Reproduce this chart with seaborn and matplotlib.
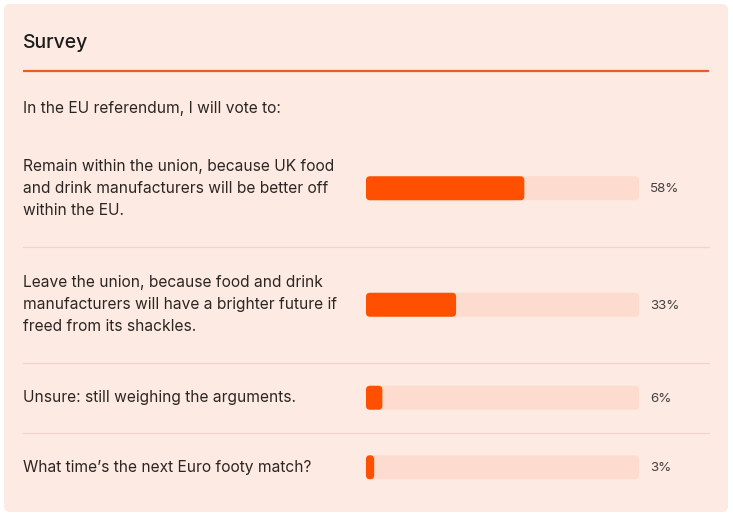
import matplotlib
matplotlib.use("Agg")
import matplotlib.pyplot as plt
from matplotlib.patches import FancyBboxPatch
import seaborn as sns
import pandas as pd

title = "Survey"
question = "In the EU referendum, I will vote to:"
answers = [
    "Remain within the union, because UK food\nand drink manufacturers will be better off\nwithin the EU.",
    "Leave the union, because food and drink\nmanufacturers will have a brighter future if\nfreed from its shackles.",
    "Unsure: still weighing the arguments.",
    "What time\u2019s the next Euro footy match?",
]
percents = [58, 33, 6, 3]

sns.set_theme(style="white")
plt.rcParams["font.family"] = ["Inter", "DejaVu Sans"]

W, H = 733, 518
CARD = "#FDEBE3"
TRACK = "#FDDCCF"
FILL = "#FE5000"
TEXT = "#2B2523"

fig = plt.figure(figsize=(W / 100, H / 100), dpi=100)
fig.patch.set_facecolor("white")

# Background axes in pixel coordinates
bg = fig.add_axes([0, 0, 1, 1])
bg.set_xlim(0, W)
bg.set_ylim(H, 0)
bg.axis("off")
bg.add_patch(FancyBboxPatch((4, 4), 724, 508, boxstyle="round,pad=0,rounding_size=6",
                            facecolor=CARD, edgecolor="none"))
bg.text(23, 43, title, fontsize=14, color="#1c1c1c", va="center", ha="left", fontweight="medium")
bg.plot([23, 709], [70.5, 70.5], color="#EC5B24", lw=1.6, solid_capstyle="butt")
bg.text(23, 108, question, fontsize=11.2, color=TEXT, va="center", ha="left")

# Row layout derived from number of text lines
line_h = 23.5
pad = 23
top = 130
centers, seps = [], []
for a in answers:
    n = a.count("\n") + 1
    h = n * line_h + 2 * pad
    centers.append(top + h / 2)
    top += h
    seps.append(top)

for c, a in zip(centers, answers):
    bg.text(23, c, a, fontsize=11.2, color=TEXT, va="center", ha="left", linespacing=1.6)
for s in seps[:-1]:
    bg.plot([23, 709], [s, s], color="#F3D3C5", lw=0.9)

# Bar axes: x 366..639 px, full height in pixel y
x0, x1 = 366, 639
ax = fig.add_axes([x0 / W, 0, (x1 - x0) / W, 1])
ax.set_xlim(0, 100)
ax.set_ylim(H, 0)
ax.axis("off")
ax.patch.set_alpha(0)

df = pd.DataFrame({"pos": centers, "pct": percents, "full": [100] * len(percents)})
min_gap = min(b - a for a, b in zip(sorted(centers), sorted(centers)[1:]))
bar_h = 24
sns.barplot(data=df, x="full", y="pos", orient="h", native_scale=True, color=TRACK,
            saturation=1, width=bar_h / min_gap, ax=ax, errorbar=None)
sns.barplot(data=df, x="pct", y="pos", orient="h", native_scale=True, color=FILL,
            saturation=1, width=bar_h / min_gap, ax=ax, errorbar=None)
ax.set_xlim(0, 100)
ax.set_ylim(H, 0)
ax.axis("off")

px_per_x = (x1 - x0) / 100.0
r_px = 4
rects = list(ax.patches)
for i, p in enumerate(rects):
    x, y = p.get_x(), p.get_y()
    w, h = p.get_width(), p.get_height()
    fc = p.get_facecolor()
    p.remove()
    r = min(r_px / px_per_x, w / 2)
    ax.add_patch(FancyBboxPatch((x, y), w, h,
                                boxstyle=f"round,pad=0,rounding_size={r}",
                                mutation_aspect=px_per_x,
                                facecolor=fc, edgecolor="none", zorder=2 if i >= len(percents) else 1))

for c, v in zip(centers, percents):
    bg.text(650, c + 1, f"{v}%", fontsize=9.6, color="#444040", va="center", ha="left")

fig.savefig("out.png", dpi=100)
